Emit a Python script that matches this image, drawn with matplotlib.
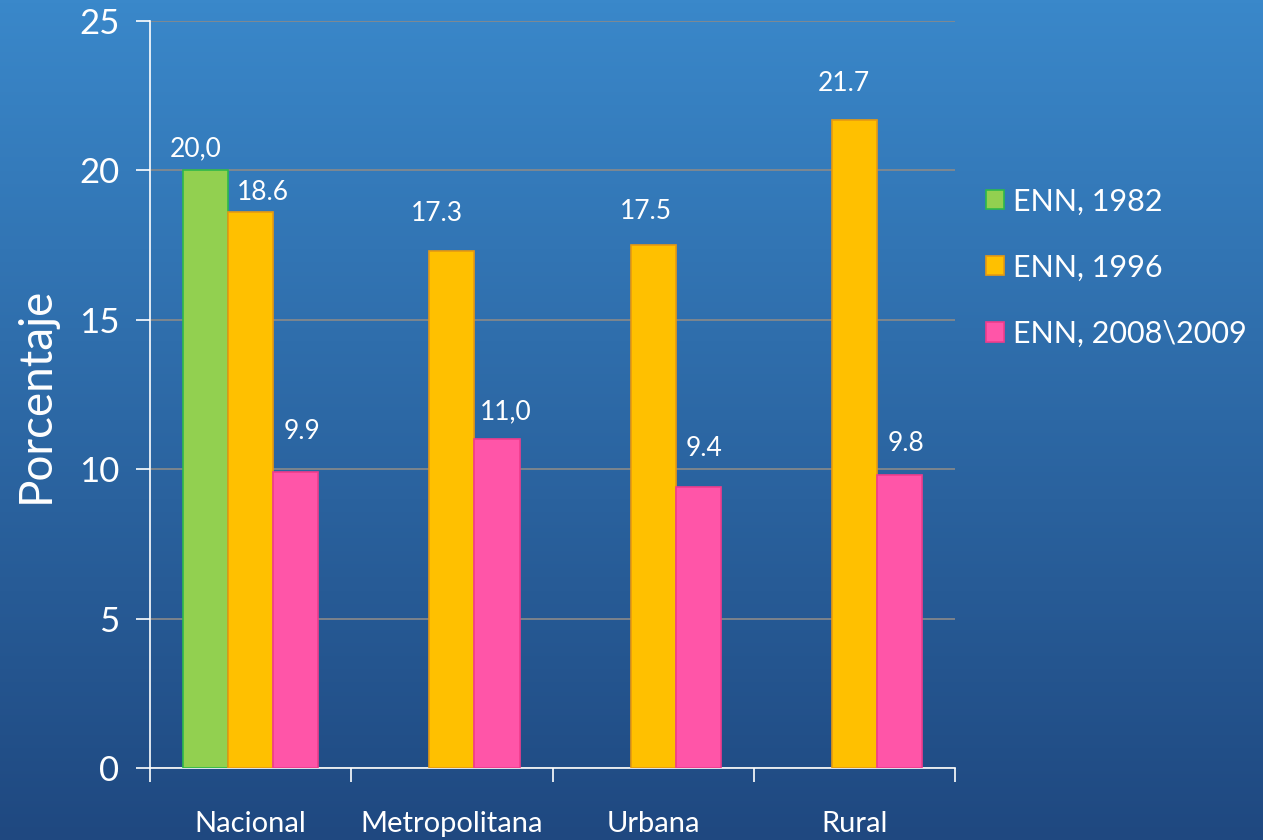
import numpy as np
import matplotlib
matplotlib.use("Agg")
import matplotlib.pyplot as plt
from matplotlib.patches import Patch

categories = ["Nacional", "Metropolitana", "Urbana", "Rural"]
series_names = ["ENN, 1982", "ENN, 1996", "ENN, 2008\\2009"]
enn_1982 = [20.0, np.nan, np.nan, np.nan]
enn_1996 = [18.6, 17.3, 17.5, 21.7]
enn_2008 = [9.9, 11.0, 9.4, 9.8]
labels_1982 = ["20,0", "", "", ""]
labels_1996 = ["18.6", "17.3", "17.5", "21.7"]
labels_2008 = ["9.9", "11,0", "9.4", "9.8"]
yticks = [0, 5, 10, 15, 20, 25]

plt.rcParams['font.family'] = ['Lato', 'DejaVu Sans']

fig = plt.figure(figsize=(12.63, 8.4), dpi=100)

# background gradient
bg = fig.add_axes([0, 0, 1, 1], zorder=-10)
top = np.array([58, 136, 202]) / 255
bot = np.array([31, 72, 128]) / 255
t = np.linspace(0, 1, 256)[:, None]
grad = top[None, :] * (1 - t) + bot[None, :] * t
bg.imshow(grad[:, None, :], aspect='auto', extent=[0, 1, 0, 1])
bg.axis('off')

ax = fig.add_axes([0.1188, 0.0857, 0.6374, 0.8893])
ax.patch.set_alpha(0)

x = np.arange(len(categories))
w = 0.224
colors = ["#92d050", "#ffc000", "#ff55a8"]
edges = ["#2eb84b", "#e89a10", "#f03c8c"]
data = [enn_1982, enn_1996, enn_2008]
labs = [labels_1982, labels_1996, labels_2008]
offsets = [-w, 0, w]
# label placement (pixels from bar top centre to label centre)
dx = [[-10, 0, 0, 0], [12, -15, -7, -11], [6, 9, 6, 6]]
dy = [[22, 0, 0, 0], [20, 38, 34, 36], [41, 28, 39, 32]]

for i in range(3):
    ax.bar(x + offsets[i], data[i], width=w, color=colors[i], edgecolor=edges[i],
           linewidth=1.2, zorder=3)
    for j in range(len(categories)):
        v = data[i][j]
        if labs[i][j]:
            ax.annotate(labs[i][j], (x[j] + offsets[i], v),
                        xytext=(dx[i][j] * 0.72, dy[i][j] * 0.72),
                        textcoords='offset points', ha='center', va='center',
                        color='white', fontsize=19, zorder=5)

ax.set_xlim(-0.5, len(categories) - 0.5)
ax.set_ylim(0, 25)
ax.set_yticks(yticks)
ax.set_yticklabels([str(v) for v in yticks], fontsize=25, color='white')
ax.yaxis.grid(True, color='#8a8a8a', linewidth=1.2, zorder=0)
ax.set_axisbelow(True)
ax.set_xticks(np.arange(len(categories) + 1) - 0.5)
ax.set_xticklabels([])
ax.set_xticks(x, minor=True)
ax.set_xticklabels(categories, minor=True, fontsize=21, color='white')
ax.tick_params(axis='x', which='minor', length=0, pad=31)
ax.tick_params(axis='x', which='major', length=10, color='white', width=1.2)
ax.tick_params(axis='y', length=10, color='white', width=1.2, pad=12)
for s in ['top', 'right']:
    ax.spines[s].set_visible(False)
for s in ['left', 'bottom']:
    ax.spines[s].set_color('white')
    ax.spines[s].set_linewidth(1.2)
ax.set_ylabel("Porcentaje", fontsize=33, color='white', labelpad=16)

handles = [Patch(facecolor=colors[i], edgecolor=edges[i], linewidth=1.2) for i in range(3)]
leg = ax.legend(handles, series_names, loc='center left', bbox_to_anchor=(1.023, 0.67),
                frameon=False, fontsize=22, labelcolor='white', handlelength=0.6,
                handleheight=0.6, handletextpad=0.3, labelspacing=1.25, borderaxespad=0)

fig.savefig("out.png", dpi=100)
